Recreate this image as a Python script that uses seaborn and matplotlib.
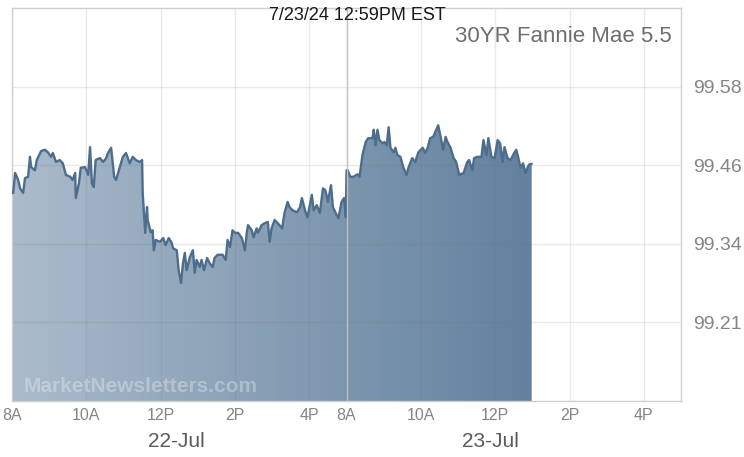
import numpy as np
import pandas as pd
import matplotlib
matplotlib.use("Agg")
import matplotlib.pyplot as plt
from matplotlib.colors import LinearSegmentedColormap
import seaborn as sns

# 30YR Fannie Mae 5.5, intraday, minutes after 8:00 AM
day1_min = [0, 2, 5, 10, 13, 18, 21, 26, 29, 31, 37, 40, 47, 53, 58, 63, 66, 71, 77, 82,
            87, 94, 98, 102, 103, 108, 111, 118, 123, 126, 129, 132, 135, 142, 147, 152, 155, 160, 165, 168,
            174, 179, 184, 190, 195, 200, 206, 210, 211, 215, 218, 219, 224, 227, 229, 232, 239, 244, 248, 253,
            258, 260, 266, 269, 273, 276, 279, 282, 287, 292, 295, 298, 303, 306, 310, 315, 319, 324, 327, 332,
            340, 345, 348, 352, 356, 360, 365, 371, 376, 379, 381, 387, 390, 395, 397, 403, 408, 413, 416, 419,
            424, 429, 436, 440, 445, 448, 453, 460, 465, 468, 473, 477, 484, 487, 492, 497, 502, 506, 510, 515,
            518, 524, 527, 532, 536, 539]
day1_px = [99.416, 99.416, 99.447, 99.436, 99.423, 99.416, 99.439, 99.441, 99.472, 99.456,
           99.451, 99.467, 99.481, 99.483, 99.479, 99.472, 99.478, 99.464, 99.467, 99.462,
           99.444, 99.441, 99.436, 99.447, 99.408, 99.431, 99.455, 99.456, 99.444, 99.487,
           99.431, 99.425, 99.467, 99.470, 99.464, 99.470, 99.478, 99.486, 99.441, 99.436,
           99.456, 99.472, 99.478, 99.462, 99.472, 99.467, 99.464, 99.467, 99.416, 99.354,
           99.394, 99.374, 99.355, 99.358, 99.327, 99.343, 99.340, 99.346, 99.335, 99.346,
           99.338, 99.330, 99.327, 99.296, 99.276, 99.307, 99.323, 99.296, 99.316, 99.327,
           99.292, 99.312, 99.301, 99.312, 99.296, 99.315, 99.307, 99.301, 99.315, 99.320,
           99.320, 99.312, 99.343, 99.332, 99.358, 99.354, 99.354, 99.346, 99.327, 99.354,
           99.366, 99.358, 99.347, 99.361, 99.354, 99.366, 99.369, 99.371, 99.340, 99.361,
           99.374, 99.369, 99.361, 99.385, 99.402, 99.394, 99.389, 99.386, 99.394, 99.408,
           99.389, 99.378, 99.413, 99.389, 99.397, 99.385, 99.423, 99.420, 99.402, 99.428,
           99.394, 99.382, 99.377, 99.402, 99.408, 99.378]

day2_min = [0, 2, 6, 11, 18, 21, 26, 31, 35, 42, 44, 47, 50, 53, 58, 61, 65, 68, 71, 76,
            79, 82, 87, 92, 97, 100, 106, 111, 116, 123, 127, 131, 135, 140, 148, 153, 156, 160, 163, 168,
            173, 177, 182, 189, 195, 198, 203, 206, 211, 218, 221, 226, 229, 234, 239, 244, 248, 252, 255, 260,
            265, 269, 274, 277, 281, 285, 289, 294, 297, 299]
day2_px = [99.451, 99.451, 99.441, 99.441, 99.445, 99.441, 99.476, 99.495, 99.501, 99.501,
           99.514, 99.490, 99.514, 99.498, 99.493, 99.495, 99.490, 99.518, 99.486, 99.479,
           99.486, 99.475, 99.472, 99.455, 99.444, 99.455, 99.470, 99.464, 99.479, 99.486,
           99.478, 99.486, 99.501, 99.503, 99.521, 99.498, 99.483, 99.503, 99.495, 99.486,
           99.470, 99.464, 99.444, 99.447, 99.464, 99.467, 99.451, 99.470, 99.472, 99.472,
           99.498, 99.475, 99.501, 99.472, 99.470, 99.498, 99.493, 99.464, 99.487, 99.470,
           99.467, 99.475, 99.483, 99.472, 99.455, 99.462, 99.447, 99.459, 99.461, 99.461]

session_len = 540  # 8A-5P
hour_ticks = [0, 120, 240, 360, 480]
hour_labels = ["8A", "10A", "12P", "2P", "4P"]
day_labels = ["22-Jul", "23-Jul"]
ytick_vals = [99.215, 99.337, 99.459, 99.581]
ytick_labels = ["99.21", "99.34", "99.46", "99.58"]
ymin, ymax = 99.093, 99.703

df = pd.concat([
    pd.DataFrame({"t": day1_min, "price": day1_px}),
    pd.DataFrame({"t": np.array(day2_min) + session_len, "price": day2_px}),
], ignore_index=True)

sns.set_style("white")
plt.rcParams["font.family"] = ["Liberation Sans", "DejaVu Sans"]

fig = plt.figure(figsize=(7.44, 4.57), dpi=100)
ax = fig.add_axes([12 / 744, 56 / 457, 669 / 744, 393 / 457])

# gradient area under the curve
poly = ax.fill_between(df["t"], df["price"], ymin, facecolor="none", edgecolor="none")
cmap = LinearSegmentedColormap.from_list("fm", ["#abbbcb", "#62819e"])
grad = np.linspace(0, 1, 256).reshape(1, -1)
im = ax.imshow(grad, cmap=cmap, aspect="auto", extent=[0, 840, ymin, ymax],
               origin="lower", zorder=1)
im.set_clip_path(poly.get_paths()[0], transform=ax.transData)

sns.lineplot(data=df, x="t", y="price", ax=ax, color="#4d6d8d", lw=1.7, zorder=3)

ax.set_xlim(0, 2 * session_len)
ax.set_ylim(ymin, ymax)
xt = hour_ticks + [h + session_len for h in hour_ticks]
ax.set_xticks(xt)
ax.set_xticklabels(hour_labels * 2)
ax.set_yticks(ytick_vals)
ax.set_yticklabels(ytick_labels)
ax.yaxis.tick_right()
ax.tick_params(axis="x", length=0, pad=5, labelsize=11.5, labelcolor="#858585")
ax.tick_params(axis="y", length=0, pad=9, labelsize=14, labelcolor="#858585")
ax.set_xlabel("")
ax.set_ylabel("")

ax.grid(True, color="#707070", alpha=0.15, lw=1)
ax.set_axisbelow("line")
ax.axvline(session_len, color="#c2c2c2", lw=1, zorder=4)
for s in ax.spines.values():
    s.set_color("#cfcfcf")
    s.set_linewidth(1)

for i, lab in enumerate(day_labels):
    ax.text(265 + i * 508, -0.102, lab, transform=ax.get_xaxis_transform(),
            ha="center", va="center", fontsize=15, color="#5a5a5a")

fig.text(0.481, 0.965, "7/23/24 12:59PM EST", ha="center", va="center",
         fontsize=13, color="#1a1a1a")
fig.text(0.903, 0.921, "30YR Fannie Mae 5.5", ha="right", va="center",
         fontsize=16, color="#6e6e6e")
fig.text(0.032, 0.154, "MarketNewsletters.com", ha="left", va="center",
         fontsize=15, fontweight="bold", color="white", alpha=0.3, zorder=10)

plt.savefig("out.png", dpi=100)
